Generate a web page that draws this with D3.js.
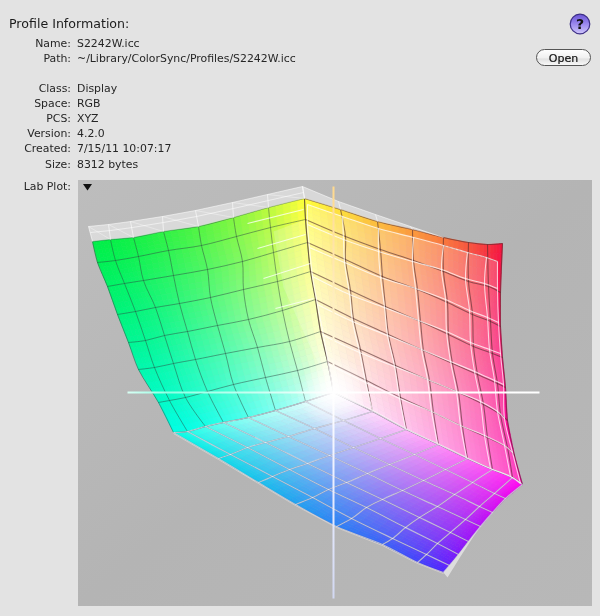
<!DOCTYPE html>
<html><head><meta charset="utf-8">
<script src="https://cdn.jsdelivr.net/npm/d3@7"></script>
<style>html,body{margin:0;padding:0;background:#e3e3e3}svg{display:block;filter:blur(0.35px)}</style>
</head><body><div id="c"></div>
<script>
// ---- text content ----
const infoLabels = ["Name:","Path:","Class:","Space:","PCS:","Version:","Created:","Size:","Lab Plot:"];
const infoValues = ["S2242W.icc","~/Library/ColorSync/Profiles/S2242W.icc","Display","RGB","XYZ","4.2.0","7/15/11 10:07:17","8312 bytes",""];
const infoRows   = [0,1,3,4,5,6,7,8.05,9.5];
// ---- a*,b* nodes of the gamut surfaces ----
const axisExtent = [-206,206];
const greenFace = [
 [[-241,151],[-223,153],[-200,155],[-170,161],[-135,166],[-100,175],[-65,185],[-29,194]],
 [[-236,130],[-218,132],[-195,136],[-165,142],[-132,147],[-97,156],[-63,165],[-28,173]],
 [[-226,106],[-209,109],[-190,112],[-160,117],[-126,123],[-91,131],[-60,140],[-26,150]],
 [[-216,78],[-198,81],[-178,85],[-154,89],[-123,95],[-90,103],[-56,111],[-23,121]],
 [[-205,50],[-188,52],[-169,57],[-146,61],[-116,67],[-85,73],[-51,82],[-18,93]],
 [[-195,23],[-179,25],[-160,29],[-138,33],[-108,39],[-76,45],[-44,51],[-13,61]],
 [[-175,-10],[-164,-8],[-148,-5],[-126,1],[-100,8],[-68,15],[-36,22],[-6,31]],
 [[-160,-40],[-146,-39],[-128,-34],[-110,-30],[-85,-25],[-58,-18],[-28,-9],[0,0]]];
const redFace = [
 [[-29,194],[7,183],[44,171],[79,163],[110,155],[135,150],[154,148],[169,149]],
 [[-28,173],[12,156],[47,143],[80,132],[110,121],[135,111],[155,106],[167,100]],
 [[-26,150],[12,133],[49,116],[84,103],[114,90],[139,78],[157,71],[167,66]],
 [[-23,121],[17,102],[52,86],[87,71],[115,58],[140,46],[159,39],[169,35]],
 [[-18,93],[20,74],[55,58],[90,42],[119,29],[144,18],[164,9],[172,5]],
 [[-13,61],[27,43],[62,27],[96,12],[125,0],[150,-12],[167,-22],[174,-28]],
 [[-6,31],[33,12],[67,-5],[100,-20],[129,-34],[154,-45],[174,-55],[181,-63]],
 [[0,0],[39,-19],[73,-37],[105,-52],[134,-66],[159,-77],[179,-85],[189,-92]]];
const blueFace = [
 [[-160,-40],[-146,-39],[-128,-34],[-110,-30],[-85,-25],[-58,-18],[-28,-9],[0,0]],
 [[-115,-66],[-103,-62],[-86,-55],[-68,-50],[-45,-44],[-19,-36],[10,-28],[39,-19]],
 [[-75,-90],[-61,-84],[-44,-77],[-26,-71],[-4,-63],[20,-55],[47,-46],[73,-37]],
 [[-38,-112],[-21,-105],[-5,-97],[13,-90],[34,-81],[56,-72],[81,-62],[105,-52]],
 [[3,-134],[18,-126],[33,-115],[49,-107],[69,-98],[90,-88],[112,-77],[134,-66]],
 [[49,-152],[59,-146],[72,-135],[86,-125],[104,-114],[121,-102],[139,-90],[159,-77]],
 [[84,-170],[93,-162],[104,-151],[117,-140],[132,-127],[146,-114],[161,-101],[179,-85]],
 [[110,-180],[116,-173],[125,-162],[135,-149],[147,-134],[159,-120],[172,-106],[189,-92]]];
// comparison profile wireframe (white)
const wireRight = [
 [[-26,188],[9,176],[45,164],[80,155],[110,147],[134,140],[153,135],[164,131]],
 [[-26,168],[10,153],[45,141],[79,131],[108,123],[132,114],[151,109],[164,104]],
 [[-24,145],[11,130],[47,115],[82,104],[112,93],[136,82],[154,75],[165,70]],
 [[-21,116],[16,98],[51,85],[85,72],[113,61],[137,50],[156,43],[167,39]],
 [[-16,88],[19,71],[54,57],[88,43],[117,31],[141,21],[161,12],[170,8]],
 [[-10,57],[26,40],[61,26],[94,13],[123,1],[147,-9],[164,-19],[171,-26]],
 [[-5,28],[32,10],[66,-6],[98,-19],[127,-33],[151,-43],[171,-53],[179,-60]],
 [[0,0],[39,-18],[72,-36],[104,-51],[133,-65],[157,-76],[177,-84],[187,-91]]];
const wireTopRight = [[-31,206],[5,191],[42,178],[77,166],[107,156]];
const wireTopLeft  = [[-245,166],[-225,168],[-203,171],[-171,176],[-138,182],[-101,190],[-66,198],[-31,206]];
const wireTopMid   = [[-243,160],[-223,162],[-201,165],[-170,170],[-137,176],[-100,184],[-65,192],[-30,200]];
const wireGreenRows = [
 [[-86,169],[-30,183]],[[-76,144],[-28,158]],[[-70,114],[-23,129]],[[-58,84],[-20,94]]];
const wireVeil = [[-60,161],[-50,105],[-23,45],[0,0],[-13,61],[-18,93],[-23,121],[-26,150],[-28,173]];
const wireTip  = [[110,-180],[114,-185],[127,-164],[140,-144],[154,-124],[147,-134],[135,-149],[125,-162],[116,-173]];
const wireLowerEdge = [[-160,-41],[-115,-67],[-75,-91],[-38,-113],[3,-135],[49,-153],[84,-171],[110,-181]];
const wireShadow = [[110,147],[134,140],[153,135],[164,131]];
// corner colours of the three faces: [r0c0, r0c7, r7c0, r7c7]
const greenCorners = ["#00f048","#ffff38","#00ffe6","#ffffff"];
const redCorners   = ["#ffff38","#f5143c","#ffffff","#ff00b4"];
const blueCorners  = ["#00ffe6","#ffffff","#4a24ff","#ff00f0"];

const W=600,H=616;
const svg=d3.select("#c").append("svg").attr("width",W).attr("height",H).attr("viewBox",[0,0,W,H]);
const defs=svg.append("defs");
svg.append("rect").attr("width",W).attr("height",H).attr("fill","#e3e3e3");

const xA=d3.scaleLinear().domain(axisExtent).range([127.5,539.5]);
const yB=d3.scaleLinear().domain(axisExtent).range([598.5,186.5]);
const px=d=>[xA(d[0]),yB(d[1])];

// plot background
const bg=defs.append("linearGradient").attr("id","bg").attr("x1",0).attr("y1",0).attr("x2",1).attr("y2",1);
bg.append("stop").attr("offset",0).attr("stop-color","#bdbdbd");
bg.append("stop").attr("offset",.5).attr("stop-color","#b4b4b4");
bg.append("stop").attr("offset",1).attr("stop-color","#b8b8b8");
svg.append("rect").attr("x",78).attr("y",180).attr("width",514).attr("height",426).attr("fill","url(#bg)");

// faces
const toC=h=>{const c=d3.rgb(h);return [c.r,c.g,c.b];};
function colorAt(cs,u,v,eu,ev){
  const [a,b,c,d]=cs.map(toC), U=Math.pow(u,eu), V=Math.pow(v,ev);
  const o=[0,1,2].map(i=>Math.round((a[i]*(1-U)+b[i]*U)*(1-V)+(c[i]*(1-U)+d[i]*U)*V));
  return `rgb(${o[0]},${o[1]},${o[2]})`;
}
function drawFace(grid,corners,eu,ev){
  const n=5,R=grid.length-1,C=grid[0].length-1,g=svg.append("g");
  for(let r=0;r<R;r++)for(let c=0;c<C;c++){
    const a=px(grid[r][c]),b=px(grid[r][c+1]),e=px(grid[r+1][c]),f=px(grid[r+1][c+1]);
    const at=(s,t)=>[0,1].map(i=>(a[i]*(1-s)+b[i]*s)*(1-t)+(e[i]*(1-s)+f[i]*s)*t);
    for(let i=0;i<n;i++)for(let j=0;j<n;j++){
      const col=colorAt(corners,(c+(i+.5)/n)/C,(r+(j+.5)/n)/R,eu,ev);
      g.append("polygon").attr("points",[at(i/n,j/n),at((i+1)/n,j/n),at((i+1)/n,(j+1)/n),at(i/n,(j+1)/n)].join(" "))
       .attr("fill",col).attr("stroke",col).attr("stroke-width",.6);
    }
  }
}
drawFace(greenFace,greenCorners,2,1.3);
drawFace(redFace,redCorners,1,.85);
drawFace(blueFace,blueCorners,1,1);

const line=d3.line().x(d=>xA(d[0])).y(d=>yB(d[1]));
const curve=d3.line().x(d=>xA(d[0])).y(d=>yB(d[1])).curve(d3.curveCatmullRom.alpha(.5));
const cols=g=>g[0].map((_,c)=>g.map(r=>r[c]));
function grid(g,color,w){
  const s=svg.append("g").attr("fill","none").attr("stroke",color).attr("stroke-width",w);
  g.concat(cols(g)).forEach(l=>s.append("path").attr("d",curve(l)));
}
// veils of the translucent wireframe surface
svg.append("path").attr("d",line(wireVeil)+"Z").attr("fill","#fff").attr("opacity",.2);
const wireOutline=wireRight[0].concat(wireRight.map(r=>r[7]),wireRight[7].slice().reverse(),wireRight.map(r=>r[0]).reverse());
svg.append("path").attr("d",line(wireOutline)+"Z").attr("fill","#fff").attr("opacity",.2);

grid(greenFace,"rgba(40,70,60,.48)",1);
grid(redFace,"rgba(80,40,40,.58)",1.1);
grid(blueFace,"rgba(50,50,90,.55)",1.1);
svg.append("path").attr("d",line(wireShadow)).attr("fill","none").attr("stroke","rgba(90,30,30,.6)").attr("stroke-dasharray","3 2");

// wireframe: translucent top band
const band=svg.append("g");
band.append("path").attr("d",line(wireTopLeft.concat(greenFace[0].slice().reverse()))+"Z").attr("fill","#fff").attr("opacity",.45);
band.append("path").attr("d",line(wireTopRight.concat(redFace[0].slice(0,5).reverse()))+"Z").attr("fill","#fff").attr("opacity",.45);
const bl=svg.append("g").attr("fill","none").attr("stroke","#fff");
[wireTopLeft,wireTopMid,wireTopRight].forEach(l=>bl.append("path").attr("d",line(l)).attr("stroke-width",1).attr("opacity",.55));
wireTopLeft.forEach((d,i)=>{
  bl.append("path").attr("d",line([d,greenFace[0][i]])).attr("opacity",.6);
  if(i<7)bl.append("path").attr("d",line([d,greenFace[0][i+1]])).attr("opacity",.35);
});
wireTopRight.forEach((d,i)=>bl.append("path").attr("d",line([d,redFace[0][i]])).attr("opacity",.6));
wireGreenRows.forEach(l=>bl.append("path").attr("d",line(l)).attr("stroke-width",1.1).attr("opacity",.75));

// wireframe: right and bottom faces
grid(wireRight,"rgba(255,255,255,.72)",1.1);
grid(blueFace,"rgba(255,255,255,.62)",1.2);
svg.append("path").attr("d",line(wireTip)+"Z").attr("fill","#e4e4e4").attr("opacity",.85);
svg.append("path").attr("d",line(wireLowerEdge)).attr("fill","none").attr("stroke","#e6dcd4").attr("stroke-width",.8).attr("opacity",.8);

// axes
const gh=defs.append("linearGradient").attr("id","axH").attr("gradientUnits","userSpaceOnUse").attr("x1",xA(axisExtent[0])).attr("x2",xA(axisExtent[1])).attr("y1",0).attr("y2",0);
[[0,"#d8fff4"],[.1,"#8fffe4"],[.5,"#ffffff"],[1,"#ffffff"]].forEach(s=>gh.append("stop").attr("offset",s[0]).attr("stop-color",s[1]));
const gv=defs.append("linearGradient").attr("id","axV").attr("gradientUnits","userSpaceOnUse").attr("y1",yB(axisExtent[1])).attr("y2",yB(axisExtent[0])).attr("x1",0).attr("x2",0);
[[0,"#ffd98e"],[.3,"#fff0c4"],[.5,"#ffffff"],[.75,"#e8ecff"],[1,"#d2d8f2"]].forEach(s=>gv.append("stop").attr("offset",s[0]).attr("stop-color",s[1]));
svg.append("rect").attr("x",xA(axisExtent[0])).attr("y",yB(0)-1).attr("width",xA(axisExtent[1])-xA(axisExtent[0])).attr("height",2).attr("fill","url(#axH)");
svg.append("rect").attr("x",xA(0)-1).attr("y",yB(axisExtent[1])).attr("width",2).attr("height",yB(axisExtent[0])-yB(axisExtent[1])).attr("fill","url(#axV)");
// bright centre
const rg=defs.append("radialGradient").attr("id","glow");
rg.append("stop").attr("offset",0).attr("stop-color","#fff").attr("stop-opacity",.95);
rg.append("stop").attr("offset",1).attr("stop-color","#fff").attr("stop-opacity",0);
svg.append("circle").attr("cx",xA(0)).attr("cy",yB(0)).attr("r",36).attr("fill","url(#glow)");

// texts
const font="'DejaVu Sans',sans-serif", rowY=i=>47+i*15;
svg.append("text").attr("x",9).attr("y",28).attr("font-family",font).attr("font-size",12.6).attr("fill","#1c1c1c").text("Profile Information:");
const t=svg.append("g").attr("font-family",font).attr("font-size",10.9).attr("fill","#262626");
infoLabels.forEach((d,i)=>t.append("text").attr("x",71).attr("y",rowY(infoRows[i])).attr("text-anchor","end").text(d));
infoValues.forEach((d,i)=>t.append("text").attr("x",77).attr("y",rowY(infoRows[i])).text(d));

// disclosure triangle
svg.append("path").attr("d",d3.line()([[83,184],[92,184],[87.5,190.5]])+"Z").attr("fill","#111");

// help button
const hg=defs.append("linearGradient").attr("id","hb").attr("x1",0).attr("y1",0).attr("x2",0).attr("y2",1);
[[0,"#6a54d6"],[.5,"#9a88ee"],[1,"#cfc6fb"]].forEach(s=>hg.append("stop").attr("offset",s[0]).attr("stop-color",s[1]));
svg.append("circle").attr("cx",580).attr("cy",24).attr("r",9.8).attr("fill","url(#hb)").attr("stroke","#3c2e86").attr("stroke-width",1.2);
svg.append("text").attr("x",580).attr("y",29).attr("text-anchor","middle").attr("font-family",font).attr("font-weight","bold").attr("font-size",14).attr("fill","#111").text("?");

// open button
const og=defs.append("linearGradient").attr("id","ob").attr("x1",0).attr("y1",0).attr("x2",0).attr("y2",1);
[[0,"#ffffff"],[.5,"#f1f1f1"],[.6,"#e2e2e2"],[1,"#fafafa"]].forEach(s=>og.append("stop").attr("offset",s[0]).attr("stop-color",s[1]));
svg.append("rect").attr("x",536.5).attr("y",49.5).attr("width",54).attr("height",16).attr("rx",8).attr("fill","url(#ob)").attr("stroke","#555").attr("stroke-width",1);
svg.append("text").attr("x",563.5).attr("y",62).attr("text-anchor","middle").attr("font-family",font).attr("font-size",11).attr("fill","#111").attr("stroke","#111").attr("stroke-width",.2).text("Open");
</script></body></html>
